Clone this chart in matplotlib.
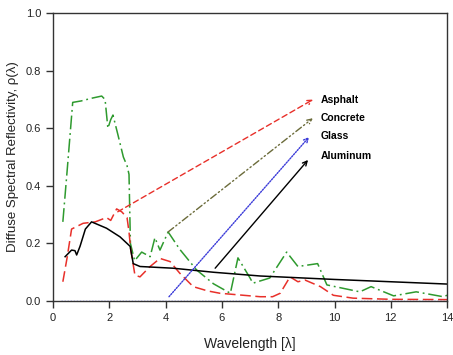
import matplotlib.pyplot as plt

plt.rcParams['font.family'] = ['Liberation Sans', 'DejaVu Sans']

# concrete (green dash-dot)
concrete_x = [0.35, 0.5, 0.7, 1.0, 1.4, 1.73, 1.85, 1.95, 2.05, 2.13, 2.3, 2.5, 2.63, 2.7, 2.75, 2.9, 3.15, 3.45,
              3.62, 3.8, 4.09, 4.5, 5.1, 5.7, 6.3, 6.57, 7.0, 7.1, 7.7, 8.3, 8.7, 9.4, 9.73, 10.9, 11.3, 12.1,
              12.9, 13.86, 14.0]
concrete_y = [0.275, 0.45, 0.69, 0.695, 0.705, 0.712, 0.70, 0.60, 0.63, 0.646, 0.58, 0.50, 0.47, 0.44, 0.20, 0.14,
              0.17, 0.154, 0.22, 0.177, 0.24, 0.18, 0.108, 0.06, 0.027, 0.15, 0.08, 0.062, 0.08, 0.17, 0.12, 0.13,
              0.056, 0.032, 0.05, 0.018, 0.032, 0.015, 0.02]

# asphalt (red dashed)
asphalt_x = [0.35, 0.5, 0.66, 1.07, 1.5, 1.9, 2.05, 2.26, 2.44, 2.63, 2.7, 2.76, 2.91, 3.09, 3.45, 3.8, 4.16, 4.5,
             4.98, 5.5, 5.93, 7.36, 7.8, 8.07, 8.42, 8.7, 8.95, 9.5, 9.96, 10.66, 12.0, 14.0]
asphalt_y = [0.067, 0.15, 0.25, 0.27, 0.275, 0.29, 0.28, 0.32, 0.31, 0.29, 0.24, 0.18, 0.09, 0.084, 0.12, 0.148,
             0.137, 0.097, 0.05, 0.035, 0.027, 0.015, 0.015, 0.027, 0.084, 0.067, 0.073, 0.05, 0.02, 0.01, 0.006,
             0.005]

# aluminum (black solid)
aluminum_x = [0.43, 0.66, 0.78, 0.84, 0.96, 1.15, 1.37, 1.9, 2.38, 2.74, 2.85, 3.09, 4.27, 5.7, 7.36, 10.0, 14.0]
aluminum_y = [0.154, 0.177, 0.175, 0.16, 0.19, 0.25, 0.275, 0.253, 0.223, 0.19, 0.13, 0.12, 0.114, 0.10, 0.087,
              0.075, 0.059]

# glass (blue dotted, sits on zero)
glass_x = [0.3, 2.0, 4.0, 6.0, 8.0, 10.0, 12.0, 14.0]
glass_y = [0.0, 0.0, 0.0, 0.0, 0.0, 0.0, 0.0, 0.0]

# label arrows: name, start, end, label y, colour, style
labels = ['Asphalt', 'Concrete', 'Glass', 'Aluminum']
arrow_start = [(2.3, 0.31), (4.09, 0.24), (4.12, 0.015), (5.76, 0.114)]
arrow_end = [(9.24, 0.70), (9.23, 0.635), (9.1, 0.57), (9.06, 0.49)]
label_y = [0.70, 0.635, 0.573, 0.503]
arrow_col = ['#e8302a', '#6b6b3a', '#3a3ad8', 'black']
arrow_ls = [(0, (4, 2.5)), (0, (5, 2, 1, 2, 1, 2)), (0, (1, 1)), '-']

fig = plt.figure(figsize=(4.53, 3.55), dpi=100)
ax = fig.add_axes([0.117, 0.152, 0.870, 0.811])

ax.plot(glass_x, glass_y, color='#3a3ad8', lw=1.0, ls=(0, (1, 1.2)))
ax.plot(concrete_x, concrete_y, color='#2e9a2e', lw=1.1, ls=(0, (9, 2.5, 1.2, 2.5)))
ax.plot(asphalt_x, asphalt_y, color='#e8302a', lw=1.1, ls=(0, (7, 3)))
ax.plot(aluminum_x, aluminum_y, color='black', lw=1.1)

for name, s, e, ly, c, ls in zip(labels, arrow_start, arrow_end, label_y, arrow_col, arrow_ls):
    ax.annotate('', xy=e, xytext=s,
                arrowprops=dict(arrowstyle='->', color=c, lw=1.0, linestyle=ls,
                                shrinkA=0, shrinkB=0, mutation_scale=8))
    ax.text(9.5, ly, name, fontsize=7.5, fontweight='bold', va='center', ha='left')

ax.set_xlim(0, 14)
ax.set_ylim(0, 1.0)
ax.set_xticks(range(0, 15, 2))
ax.set_yticks([0.0, 0.2, 0.4, 0.6, 0.8, 1.0])
ax.set_yticklabels(['0.0', '0.2', '0.4', '0.6', '0.8', '1.0'])
ax.tick_params(direction='out', length=5, width=1, labelsize=8, color='#333333', labelcolor='#222222')
for sp in ax.spines.values():
    sp.set_color('#333333')
    sp.set_linewidth(1.0)

ax.set_xlabel('Wavelength [λ]', fontsize=10, color='#222222', labelpad=10)
ax.set_ylabel('Diffuse Spectral Reflectivity, ρ(λ)', fontsize=9.5, color='#222222', labelpad=5)

fig.savefig('out.png', dpi=100)
